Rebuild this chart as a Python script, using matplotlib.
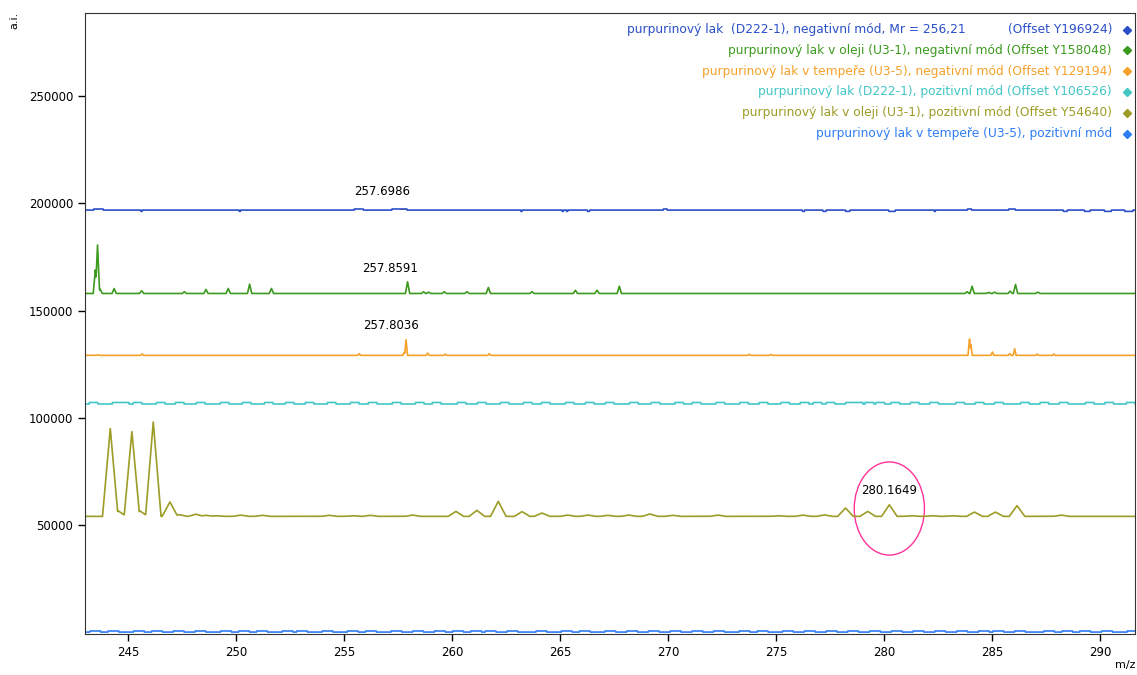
"""plot.py
Offset mass spectra of purpurin lake samples (negative / positive mode).
"""

import matplotlib.pyplot as plt
from matplotlib.patches import Ellipse
import numpy as np

plt.rcParams["font.family"] = ["DejaVu Sans"]
plt.rcParams["font.size"] = 8

# ---- data ----
labels = [
    "purpurinový lak v oleji (U3-1), negativní mód (Offset Y158048)",
    "purpurinový lak v tempeře (U3-5), negativní mód (Offset Y129194)",
    "purpurinový lak (D222-1), pozitivní mód (Offset Y106526)",
    "purpurinový lak v oleji (U3-1), pozitivní mód (Offset Y54640)",
    "purpurinový lak v tempeře (U3-5), pozitivní mód",
]
label_first = "purpurinový lak  (D222-1), negativní mód, Mr = 256,21"
label_first_offset = "(Offset Y196924)"

offsets = [196924, 158048, 129194, 106526, 54640, 0]
colors = ["#2a4fc8", "#3c9a1e", "#f5a12a", "#42c6c6", "#9c9c26", "#2f7df5"]

# green: U3-1 negative
green_mz = [243.48, 243.58, 243.7, 244.35, 245.62, 247.6, 248.6, 249.63, 250.62,
            251.63, 257.93, 258.67, 258.9, 259.63, 260.68, 261.67, 263.69, 265.7,
            266.7, 267.73, 283.83, 284.06, 284.83, 285.1, 285.82, 286.07, 287.1]
green_h = [11000, 22600, 2000, 2300, 1250, 800, 1860, 2330, 4350,
           2330, 5450, 780, 600, 800, 800, 2800, 800, 1500,
           1500, 3400, 800, 3400, 500, 600, 1100, 4200, 600]

# orange: U3-5 negative
orange_mz = [243.6, 245.65, 255.69, 257.78, 257.86, 258.86, 259.68, 261.71,
             273.75, 274.75, 283.94, 284.0, 285.0, 285.8, 286.03, 287.07, 287.84]
orange_h = [300, 700, 780, 1500, 7300, 1100, 600, 800,
            500, 400, 7600, 5000, 1550, 800, 3100, 600, 600]

# olive: U3-1 positive
olive_mz = [244.17, 244.55, 245.17, 245.55, 246.16, 246.93, 247.36, 248.13, 248.6,
            249.06, 250.2, 251.2, 254.3, 255.4, 256.2, 258.16, 260.17, 261.14,
            262.13, 263.23, 264.15, 265.34, 266.27, 267.19, 268.16, 269.15, 270.2,
            272.29, 275.1, 276.22, 277.22, 278.2, 279.23, 280.23, 281.25, 282.2,
            283.15, 284.17, 285.14, 286.14, 288.18]
olive_h = [41000, 2500, 39500, 2500, 44000, 6700, 800, 1000, 500,
           300, 600, 500, 500, 300, 500, 600, 2300, 2800,
           7000, 2200, 1550, 600, 600, 500, 600, 1100, 500,
           600, 300, 600, 700, 3900, 2300, 5400, 300, 300,
           300, 2000, 2000, 5000, 600]

# cyan: D222-1 positive, small raised steps
cyan_steps = [243.19, 244.26, 244.63, 245.23, 246.30, 247.18, 248.15, 249.26, 250.28,
              251.30, 252.27, 253.19, 254.21, 255.28, 256.11, 257.22, 258.29, 259.07,
              260.23, 261.16, 262.22, 263.29, 264.12, 265.23, 266.16, 267.08, 268.2,
              269.2, 270.3, 271.1, 272.2, 273.3, 274.2, 275.2, 276.1, 276.7, 277.3,
              278.2, 278.6, 279.1, 279.6, 280.3, 281.2, 282.1, 283.3, 284.2, 285.1,
              286.3, 287.2, 288.1, 289.3, 290.2, 291.2]

# blue top: D222-1 negative, raised and dipped segments
blue_up = [(243.4, 243.84), (255.46, 255.88), (257.2, 257.9), (269.76, 269.94),
           (283.84, 284.03), (285.75, 286.05)]
blue_down = [(245.58, 245.64), (250.13, 250.19), (263.17, 263.23), (265.08, 265.14),
             (265.28, 265.34), (266.25, 266.35), (276.2, 276.3), (277.15, 277.3),
             (278.2, 278.4), (280.2, 280.5), (282.3, 282.36), (288.28, 288.46),
             (289.26, 289.52), (290.18, 290.5), (291.12, 291.5)]

# bright blue bottom: U3-5 positive, dashes
bottom_steps = [243.22, 244.06, 245.24, 246.08, 247.08, 248.09, 249.27, 250.11, 250.94,
                252.12, 252.79, 253.97, 255.14, 255.98, 257.16, 258.16, 259.17, 260.01,
                260.85, 261.52, 262.53, 263.87, 265.04, 265.88, 267.06, 268.07, 269.07,
                270.08, 271.09, 272.09, 273.27, 274.11, 275.28, 276.29, 277.3, 278.3,
                279.31, 280.32, 281.32, 282.33, 283.34, 284.35, 285.02, 286.02, 287.37,
                288.21, 289.04, 290.05, 291.23]

annotations = [("257.6986", 256.76, 205800), ("257.8591", 257.13, 169900),
               ("257.8036", 257.18, 142900), ("280.1649", 280.23, 66000)]

xticks = [245, 250, 255, 260, 265, 270, 275, 280, 285, 290]
yticks = [50000, 100000, 150000, 200000, 250000]

x = np.arange(243.0, 291.7, 0.01)


def peaks(mz, h, w):
    y = np.zeros_like(x)
    for c, a in zip(mz, h):
        y = np.maximum(y, a * np.clip(1 - np.abs(x - c) / w, 0, None))
    return y


def steps(starts, width, amp):
    y = np.zeros_like(x)
    for s in starts:
        y[(x >= s) & (x < s + width)] = amp
    return y


def segments(segs, amp):
    y = np.zeros_like(x)
    for a, b in segs:
        y[(x >= a) & (x < b)] = amp
    return y


fig = plt.figure(figsize=(11.37, 6.75), dpi=100)
ax = fig.add_axes([85 / 1137, 1 - 634 / 675, 1050 / 1137, 621 / 675])

traces = [
    segments(blue_up, 500) + segments(blue_down, -600),
    peaks(green_mz, green_h, 0.1),
    peaks(orange_mz, orange_h, 0.07),
    steps(cyan_steps, 0.4, 700),
    peaks(olive_mz, olive_h, 0.36) - 500,
    steps(bottom_steps, 0.5, 500) + 200,
]
for tr, off, col in zip(traces, offsets, colors):
    ax.plot(x, tr + off, color=col, lw=1.2)

# small pink marked area on the top trace
m = (x >= 257.55) & (x <= 257.85)
ax.fill_between(x[m], offsets[0], traces[0][m] + offsets[0], color="#ff6680", lw=0)

for txt, tx, ty in annotations:
    ax.text(tx, ty, txt, ha="center", va="center", fontsize=8.5)

ax.add_patch(Ellipse((280.23, 57800), 3.25, 43400, fill=False,
                     edgecolor="#ff3399", lw=1))

ax.set_xlim(243.0, 291.6)
ax.set_ylim(-700, 288800)
ax.set_xticks(xticks)
ax.set_yticks(yticks)
ax.set_yticklabels([str(v) for v in yticks])
ax.tick_params(direction="out", length=5, width=1, labelsize=8.5)
for s in ax.spines.values():
    s.set_color("#333333")

fig.text(14 / 1137, 1 - 20 / 675, "a.i.", rotation=90, ha="center", va="center", fontsize=8)
fig.text(1125 / 1137, 1 - 665 / 675, "m/z", ha="center", va="center", fontsize=8)

# legend drawn by hand, right aligned with diamond markers
row_y = [29.5 + 20.8 * i for i in range(6)]
for i in range(6):
    yy = 1 - row_y[i] / 675
    if i == 0:
        fig.text(627 / 1137, yy, label_first, color=colors[0], ha="left",
                 va="center", fontsize=8.8)
        fig.text(1112 / 1137, yy, label_first_offset, color=colors[0], ha="right",
                 va="center", fontsize=8.8)
    else:
        fig.text(1112 / 1137, yy, labels[i - 1], color=colors[i], ha="right",
                 va="center", fontsize=8.8)
    fig.lines.append(plt.Line2D([1127 / 1137], [yy], marker="D", ms=4,
                                color=colors[i], transform=fig.transFigure))

fig.savefig("out.png", dpi=100)
